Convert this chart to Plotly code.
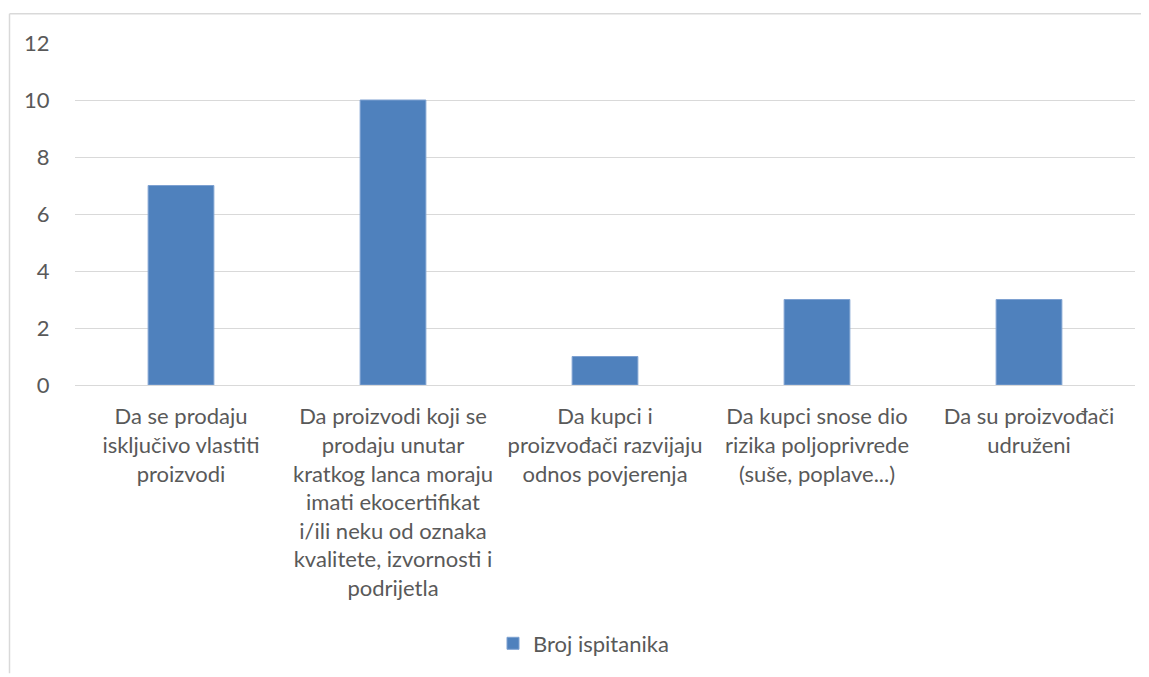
import plotly.graph_objects as go

categories = [
    "Da se prodaju<br>isključivo vlastiti<br>proizvodi",
    "Da proizvodi koji se<br>prodaju unutar<br>kratkog lanca moraju<br>imati ekocertifikat<br>i/ili neku od oznaka<br>kvalitete, izvornosti i<br>podrijetla",
    "Da kupci i<br>proizvođači razvijaju<br>odnos povjerenja",
    "Da kupci snose dio<br>rizika poljoprivrede<br>(suše, poplave...)",
    "Da su proizvođači<br>udruženi",
]
values = [7, 10, 1, 3, 3]
series_name = "Broj ispitanika"

# page body has an 8px margin, so figure coords = screen coords - 8
OFF = 8
W, H = 1149 - OFF, 677 - OFF
L, R, T, B = 75 - OFF, 1135 - OFF, 43 - OFF, 387 - OFF

def px_x(x):
    return (x - OFF - L) / (R - L)

def px_y(y):
    return (B - (y - OFF)) / (B - T)

font = dict(family="Lato, Carlito, Calibri, sans-serif", size=22, color="#595959")

fig = go.Figure()
fig.add_trace(go.Bar(
    x=categories, y=values, name=series_name,
    marker=dict(color="#4F81BD", line=dict(color="#7EA1D1", width=1)),
    width=0.31, showlegend=True,
))

fig.update_layout(
    width=W, height=H,
    margin=dict(l=L, r=W - R, t=T, b=H - B),
    paper_bgcolor="white", plot_bgcolor="white",
    font=font,
    showlegend=True,
    legend=dict(orientation="h", x=px_x(493), xanchor="left",
                y=px_y(647), yanchor="middle", font=font,
                itemwidth=30, borderwidth=0, bgcolor="rgba(0,0,0,0)"),
    xaxis=dict(showgrid=False, showline=True, linecolor="#D9D9D9", linewidth=1,
               ticks="outside", ticklen=12, tickcolor="rgba(0,0,0,0)",
               tickfont=font, fixedrange=True),
    yaxis=dict(range=[0, 12], dtick=2, showgrid=True, gridcolor="#D9D9D9",
               gridwidth=1, zeroline=False, showline=False,
               ticks="outside", ticklen=20, tickcolor="rgba(0,0,0,0)",
               tickfont=font, fixedrange=True),
    shapes=[
        dict(type="line", xref="paper", yref="paper",
             x0=px_x(9.5), x1=px_x(1149), y0=px_y(13.5), y1=px_y(13.5),
             line=dict(color="#D9D9D9", width=1.5)),
        dict(type="line", xref="paper", yref="paper",
             x0=px_x(9.5), x1=px_x(9.5), y0=px_y(13.5), y1=px_y(677),
             line=dict(color="#D9D9D9", width=1.5)),
    ],
)

fig.write_html("out.html")
